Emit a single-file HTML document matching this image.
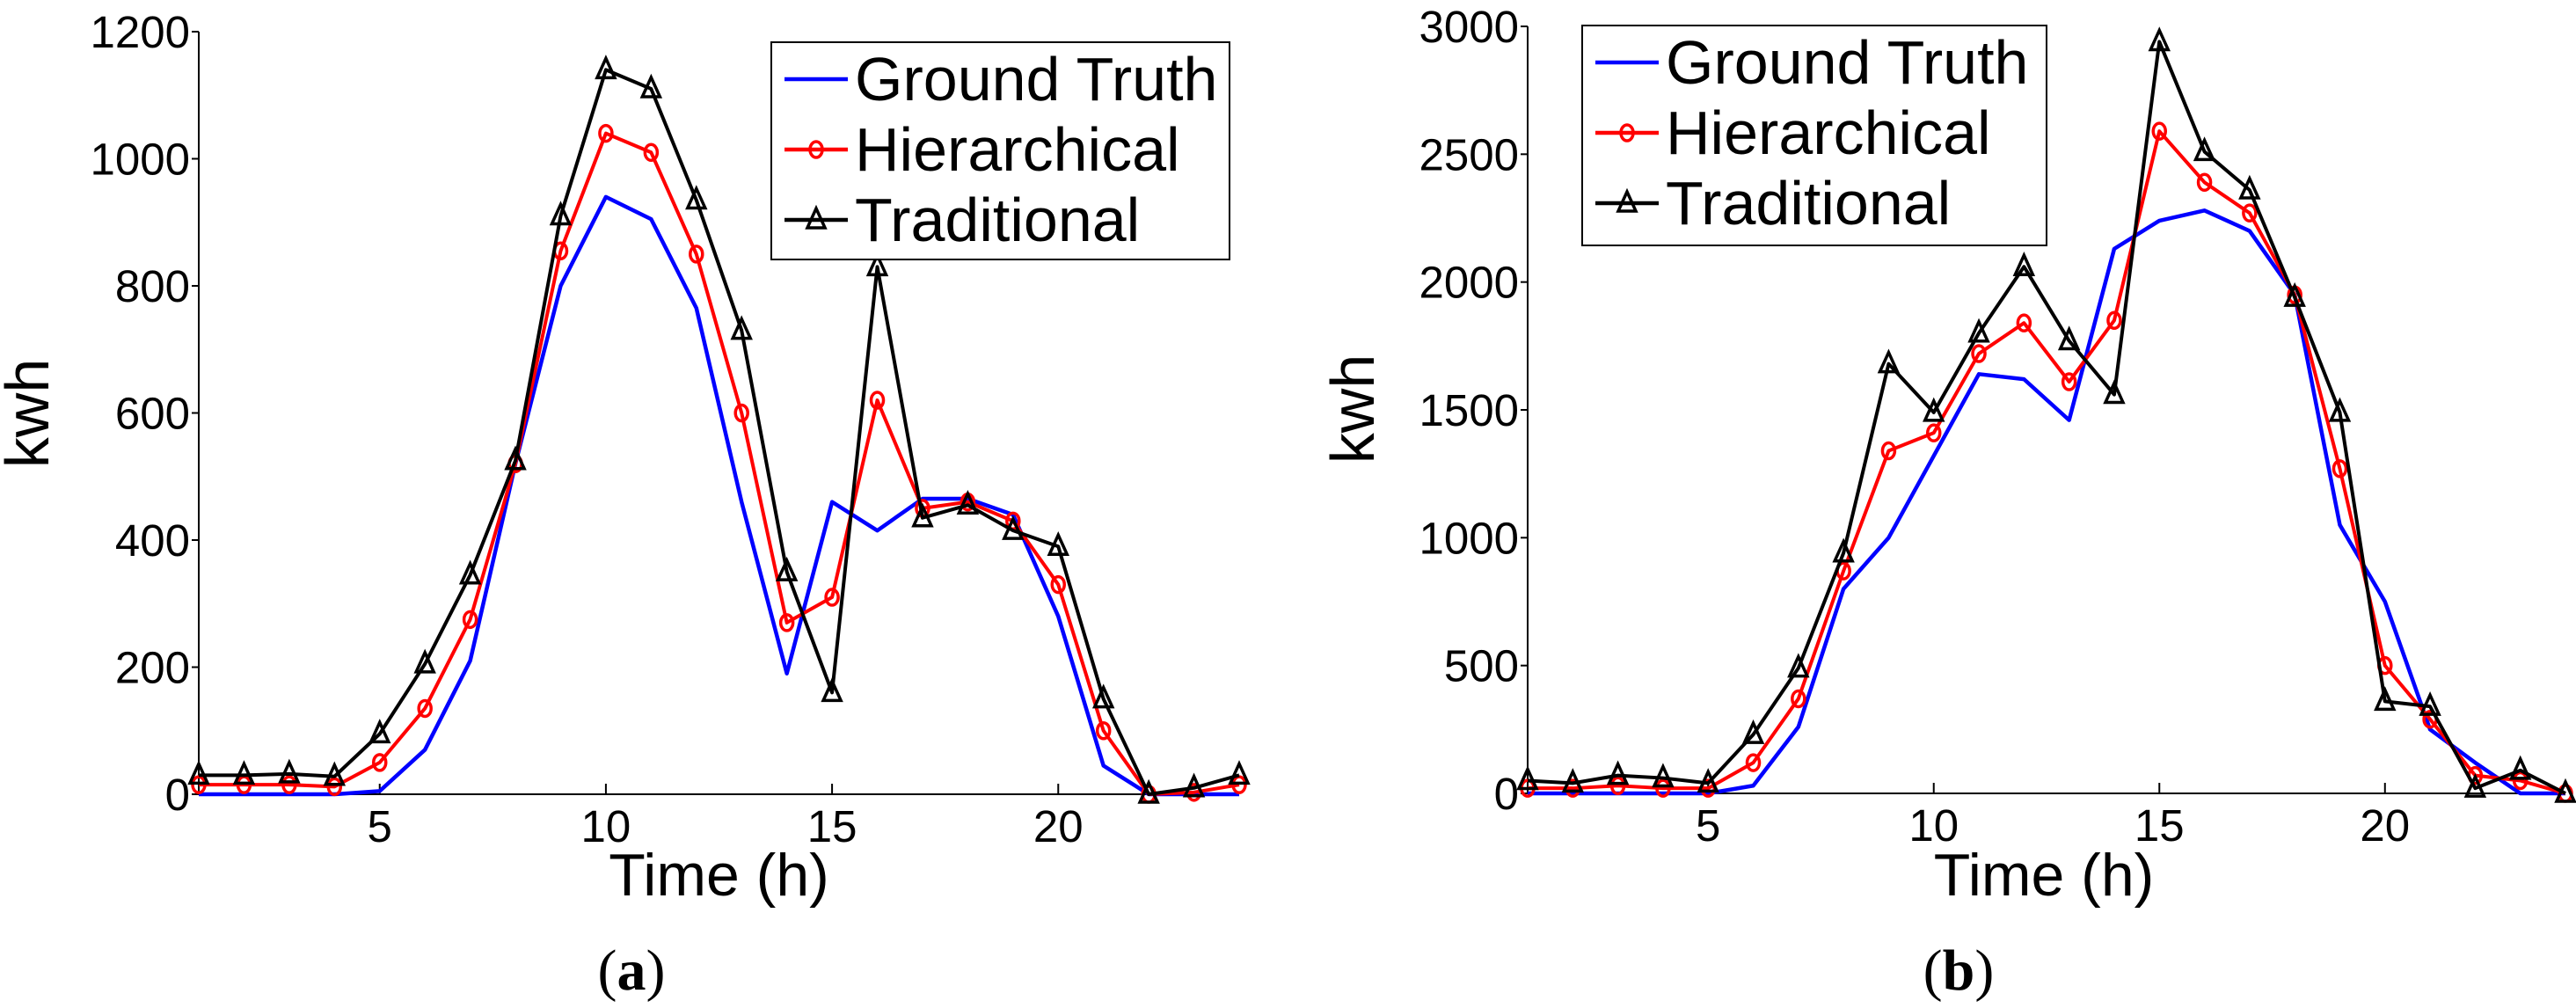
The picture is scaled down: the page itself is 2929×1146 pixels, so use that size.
<!DOCTYPE html>
<html><head><meta charset="utf-8"><style>
html,body{margin:0;padding:0;background:#fff;}
svg{display:block;font-family:"Liberation Sans",Arial,sans-serif;}
</style></head><body>
<svg id="fig" width="2929" height="1146" viewBox="0 0 2929 1146"></svg>
<script>
const hours = [1,2,3,4,5,6,7,8,9,10,11,12,13,14,15,16,17,18,19,20,21,22,23,24];
const xTicks = [5,10,15,20];
const aGround = [0,0,0,0,5,70,210,520,800,940,905,765,460,190,460,415,465,465,440,280,45,0,0,0];
const aHier = [15,15,15,12,50,135,275,520,855,1040,1010,850,600,270,310,620,450,460,430,330,100,0,3,15];
const aTrad = [30,30,32,28,95,205,345,525,910,1140,1110,935,730,350,160,830,435,455,415,390,150,0,10,30];
const aYTicks = [0,200,400,600,800,1000,1200];
const bGround = [0,0,0,0,0,30,260,800,1000,1320,1640,1620,1460,2130,2240,2280,2200,1950,1050,750,250,120,0,0];
const bHier = [20,20,30,20,20,120,370,870,1340,1410,1720,1840,1610,1850,2590,2390,2270,1950,1270,500,290,70,50,0];
const bTrad = [50,40,70,60,40,230,490,940,1680,1490,1800,2060,1770,1560,2940,2510,2360,1940,1490,360,340,20,90,0];
const bYTicks = [0,500,1000,1500,2000,2500,3000];
const seriesNames = ["Ground Truth","Hierarchical","Traditional"];

const NS="http://www.w3.org/2000/svg";
const svg=document.getElementById('fig');
function mk(tag,attrs,parent){const e=document.createElementNS(NS,tag);for(const k in attrs)e.setAttribute(k,attrs[k]);(parent||svg).appendChild(e);return e;}

function panel(p){
  const g=mk('g',{});
  
  
  const sx=v=>p.x0+(v-1)*(p.x1-p.x0)/23;
  const sy=v=>p.y0-(v/p.ymax)*(p.y0-p.y1);
  const ax=mk('path',{d:`M${p.x0},${p.y1} L${p.x0},${p.y0} L${p.x1},${p.y0}`,stroke:'#000','stroke-width':2,fill:'none'},g);
  
  
  p.yt.forEach(v=>{
    mk('line',{x1:p.x0-8,x2:p.x0,y1:sy(v),y2:sy(v),stroke:'#000','stroke-width':2},g);
    const t=mk('text',{x:p.x0-10,y:sy(v)+18,'text-anchor':'end','font-size':51},g);
    t.textContent=v;
    
    
  });
  xTicks.forEach(v=>{
    mk('line',{x1:sx(v),x2:sx(v),y1:p.y0,y2:p.y0-12,stroke:'#000','stroke-width':2},g);
    const t=mk('text',{x:sx(v),y:p.y0+54,'text-anchor':'middle','font-size':51},g);
    t.textContent=v;
    
    
  });
  const xl=mk('text',{x:(p.x0+p.x1)/2-p.xlOff,y:1018,'text-anchor':'middle','font-size':68},g);
  xl.textContent='Time (h)';
  
  
  const yl=mk('text',{x:0,y:0,'text-anchor':'middle','font-size':70,transform:`translate(${p.ylx},${p.yly}) rotate(-90)`},g);
  yl.textContent='kwh';
  
  
  const cap=mk('text',{x:p.capx,y:1125,'text-anchor':'middle','font-size':66,'font-family':'"Liberation Serif",serif'},g);
  cap.innerHTML='(<tspan font-weight="bold">'+p.cap+'</tspan>)';
  
  
  const ser=[{d:p.g,c:'#0000ff',m:null},{d:p.h,c:'#ff0000',m:'o'},{d:p.t,c:'#000',m:'t'}];
  ser.forEach((s,i)=>{
    const pts=hours.map((h,j)=>sx(h)+','+sy(s.d[j])).join(' ');
    const l=mk('polyline',{points:pts,fill:'none',stroke:s.c,'stroke-width':i==0?4.5:4,'stroke-linejoin':'round'},g);
    
    
    hours.forEach((h,j)=>{
      const x=sx(h),y=sy(s.d[j]);
      if(s.m==='o'){mk('ellipse',{cx:x,cy:y,rx:7,ry:9,fill:'none',stroke:s.c,'stroke-width':3.5},g);}
      else if(s.m==='t'){mk('path',{d:`M${x},${y-13} L${x+10},${y+9} L${x-10},${y+9} Z`,fill:'none',stroke:s.c,'stroke-width':3.5},g);}
    });
  });
  const L=p.leg;
  const lg=mk('g',{},g);
  
  
  mk('rect',{x:L.x,y:L.y,width:L.w,height:L.h,fill:'#fff',stroke:'#000','stroke-width':2},lg);
  ser.forEach((s,i)=>{
    const cy=L.y+42+i*80;
    const e=mk('g',{},lg);
    
    
    mk('line',{x1:L.x+15,x2:L.x+87,y1:cy,y2:cy,stroke:s.c,'stroke-width':4.5},e);
    const mx=L.x+51;
    if(s.m==='o')mk('ellipse',{cx:mx,cy:cy,rx:7,ry:9,fill:'none',stroke:s.c,'stroke-width':3.5},e);
    if(s.m==='t')mk('path',{d:`M${mx},${cy-13} L${mx+10},${cy+9} L${mx-10},${cy+9} Z`,fill:'none',stroke:s.c,'stroke-width':3.5},e);
    const t=mk('text',{x:L.x+95,y:cy+24,'font-size':70},e);
    t.textContent=seriesNames[i];
  });
}
panel({id:'panel-a',x0:226,x1:1409,y0:903,y1:36,ymax:1200,yt:aYTicks,g:aGround,h:aHier,t:aTrad,
  leg:{x:877,y:48,w:521,h:247},ylx:55,yly:470,capx:718,cap:'a',xlOff:0});
panel({id:'panel-b',x0:1737,x1:2917,y0:902,y1:30,ymax:3000,yt:bYTicks,g:bGround,h:bHier,t:bTrad,
  leg:{x:1799,y:29,w:528,h:250},ylx:1562,yly:465,capx:2227,cap:'b',xlOff:3});
</script>
</body></html>
